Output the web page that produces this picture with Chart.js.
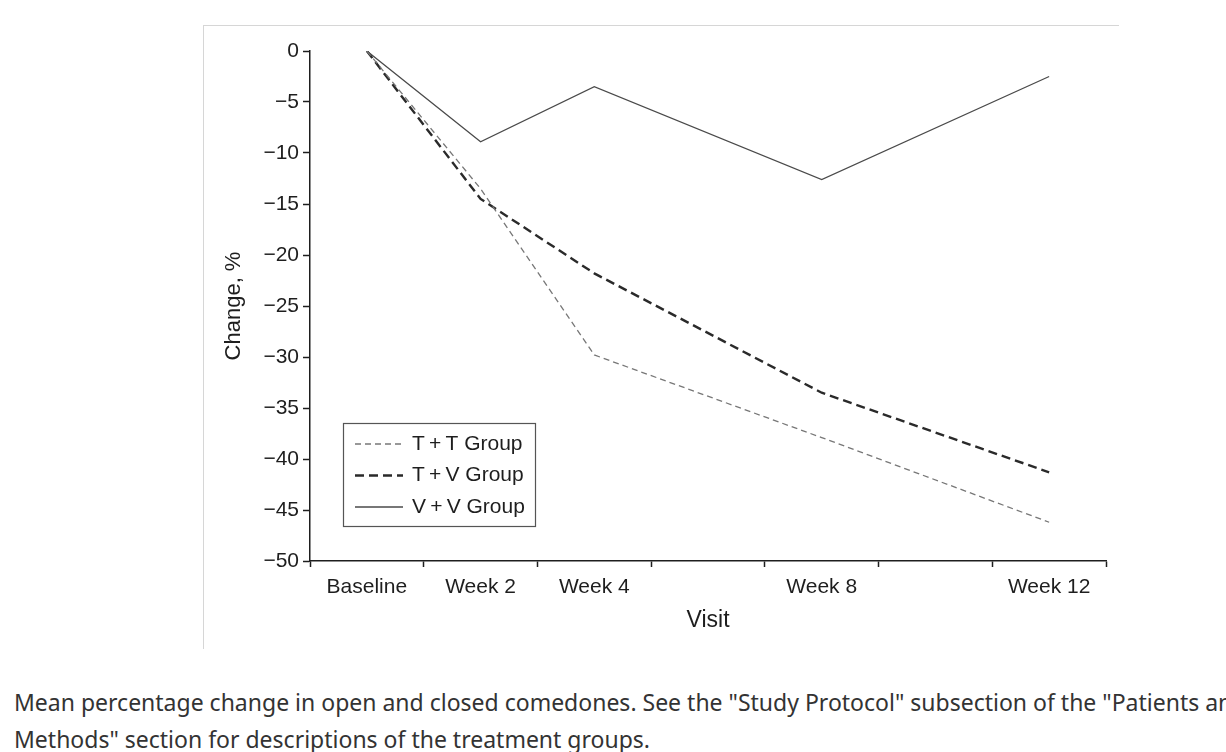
<!DOCTYPE html>
<html>
<head>
<meta charset="utf-8">
<script src="https://cdn.jsdelivr.net/npm/chart.js@4.4.0/dist/chart.umd.min.js"></script>
<style>
  body { margin: 0; background: #fff; width: 1226px; height: 752px; overflow: hidden; position: relative; }
  #frame { position: absolute; left: 203px; top: 25px; width: 915px; height: 623px;
           border-top: 1px solid #d6d6d6; border-left: 1px solid #d6d6d6; }
  #wrap { position: absolute; left: 0; top: 0; width: 1226px; height: 660px; }
  .caption { position: absolute; left: 14px; font: 23px "Noto Sans", sans-serif; line-height: 24px;
             color: #333; white-space: nowrap; }
</style>
</head>
<body>
<div id="frame"></div>
<div id="wrap"><canvas id="chart" width="1226" height="660"></canvas></div>
<div class="caption" style="top:690px">Mean percentage change in open and closed comedones. See the "Study Protocol" subsection of the "Patients and</div>
<div class="caption" style="top:727px">Methods" section for descriptions of the treatment groups.</div>
<script>
// values (mean % change)
const visits = ["Baseline", "Week 2", "Week 4", "Week 8", "Week 12"];
const weeks = [0, 2, 4, 8, 12];
const ttGroup = [0, -13.5, -29.8, -37.9, -46.2];
const tvGroup = [0, -14.5, -21.8, -33.5, -41.3];
const vvGroup = [0, -8.9, -3.5, -12.6, -2.5];
const yTicks = [0, -5, -10, -15, -20, -25, -30, -35, -40, -45, -50];
const xTickMarks = [-1, 1, 3, 5, 7, 9, 11, 13];

const FONT = '"Liberation Sans", Arial, sans-serif';
const INK = "#1e1e1e";

const toPoints = (vals) => weeks.map((w, i) => ({ x: w, y: vals[i] }));

// legend drawn inside the plot, lower left
const boxLegend = {
  id: "boxLegend",
  afterDraw(chart) {
    const { ctx, chartArea } = chart;
    const x = chartArea.left + 33, y = 423, w = 192, h = 103;
    ctx.save();
    ctx.fillStyle = "#fff";
    ctx.fillRect(x, y, w, h);
    ctx.strokeStyle = "#555";
    ctx.lineWidth = 1.2;
    ctx.strokeRect(x + 0.5, y + 0.5, w, h);
    ctx.font = "21px " + FONT;
    ctx.textBaseline = "middle";
    chart.data.datasets.forEach((ds, i) => {
      const cy = y + 21 + i * 31.5;
      ctx.beginPath();
      ctx.setLineDash(ds.borderDash || []);
      ctx.strokeStyle = ds.borderColor;
      ctx.lineWidth = ds.borderWidth;
      ctx.moveTo(x + 12, cy);
      ctx.lineTo(x + 60, cy);
      ctx.stroke();
      ctx.setLineDash([]);
      ctx.fillStyle = INK;
      ctx.fillText(ds.label, x + 69, cy);
    });
    ctx.restore();
  }
};

new Chart(document.getElementById("chart"), {
  type: "line",
  data: {
    datasets: [
      { label: "T\u2009+\u2009T Group", data: toPoints(ttGroup), borderColor: "#777",
        borderWidth: 1.3, borderDash: [6, 4] },
      { label: "T\u2009+\u2009V Group", data: toPoints(tvGroup), borderColor: "#2a2a2a",
        borderWidth: 2.4, borderDash: [9, 5] },
      { label: "V\u2009+\u2009V Group", data: toPoints(vvGroup), borderColor: "#4a4a4a",
        borderWidth: 1.3 }
    ]
  },
  options: {
    responsive: false,
    animation: false,
    layout: { autoPadding: false, padding: { top: 51, right: 120, bottom: 0, left: 0 } },
    elements: { point: { radius: 0 }, line: { tension: 0 } },
    plugins: { legend: { display: false }, tooltip: { enabled: false } },
    scales: {
      x: {
        type: "linear",
        min: -1,
        max: 13,
        afterBuildTicks: (s) => {
          s.ticks = [...xTickMarks, ...weeks].sort((a, b) => a - b).map((v) => ({ value: v }));
        },
        afterFit: (s) => { s.height = 99; },
        grid: {
          drawOnChartArea: false,
          tickLength: 6,
          tickColor: (c) => (weeks.includes(c.tick.value) ? "rgba(0,0,0,0)" : INK),
          tickWidth: 1.5
        },
        border: { display: true, color: INK, width: 1.5 },
        ticks: {
          autoSkip: false,
          maxRotation: 0,
          padding: 8,
          color: INK,
          font: { family: FONT, size: 21 },
          callback: (v) => { const i = weeks.indexOf(v); return i >= 0 ? visits[i] : ""; }
        },
        title: {
          display: true, text: "Visit", color: INK,
          font: { family: FONT, size: 23 }, padding: { top: 0, bottom: 26 }
        }
      },
      y: {
        min: -50,
        max: 0,
        afterBuildTicks: (s) => { s.ticks = yTicks.map((v) => ({ value: v })); },
        afterFit: (s) => { s.width = 310; },
        grid: { drawOnChartArea: false, tickLength: 7, tickColor: INK, tickWidth: 1.5 },
        border: { display: true, color: INK, width: 1.5 },
        ticks: {
          padding: 4,
          color: INK,
          font: { family: FONT, size: 21 },
          callback: (v) => (v === 0 ? "0" : "\u2212" + Math.abs(v))
        },
        title: {
          display: true, text: "Change, %", color: INK,
          font: { family: FONT, size: 22 }, padding: { top: 221, bottom: 0 }
        }
      }
    }
  },
  plugins: [boxLegend]
});
</script>
</body>
</html>
